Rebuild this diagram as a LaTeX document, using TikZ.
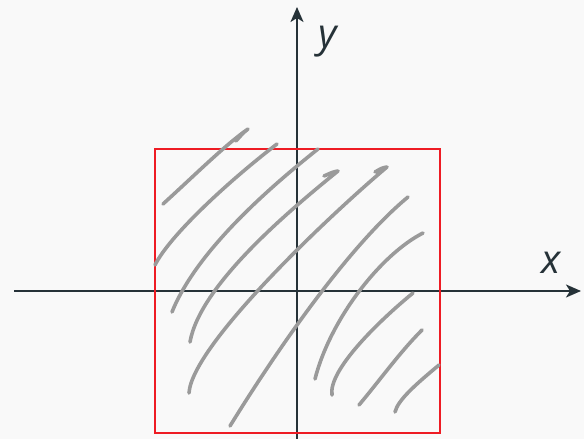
\documentclass[tikz,border=0pt]{standalone}
\usepackage{fontspec}
\setmainfont{Open Sans}
\usetikzlibrary{arrows.meta}
\definecolor{bgc}{HTML}{F9F9F9}
\definecolor{axc}{HTML}{263238}
\definecolor{redc}{RGB}{238,28,36}
\definecolor{hatc}{HTML}{9A9A9A}
\tikzset{
  axis/.style={draw=axc, line width=2pt, -{Stealth[length=15pt,width=13pt,inset=4pt]}},
  hatch/.style={draw=hatc, line width=3.6pt, line cap=round, line join=round},
  lbl/.style={text=axc, font=\fontsize{40}{42}\selectfont\itshape, inner sep=0pt}
}
\begin{document}
\begin{tikzpicture}[x=1pt,y=-1pt]
\fill[bgc] (0,0) rectangle (584,439);
\useasboundingbox (0,0) rectangle (584,439);
% axes
\coordinate (xs) at (14,291);
\coordinate (xe) at (581,291);
\coordinate (ys) at (297,439);
\coordinate (ye) at (297,7);
\draw[axis] (xs) -- (xe);
\draw[axis] (ys) -- (ye);
\node[lbl, anchor=base] (xl) at (551,273) {x};
\node[lbl, anchor=base] (yl) at (328,47) {y};
% red square
\draw[draw=redc, line width=2pt] (155,149) rectangle (440,433);
% hatching strokes
\draw[hatch] (163,204) .. controls (195,175) and (225,145) .. (248,129) .. controls (244,132) .. (236,141);
\draw[hatch] (155,265) .. controls (170,235) and (230,180) .. (277,144);
\draw[hatch] (172,312) .. controls (195,255) and (260,195) .. (318,149);
\draw[hatch] (190,342) .. controls (200,285) and (290,210) .. (338,171) .. controls (333,172) .. (324,176);
\draw[hatch] (189,393) .. controls (192,345) and (330,215) .. (387,167) .. controls (382,168) .. (375,172);
\draw[hatch] (230,426) .. controls (280,345) and (350,245) .. (408,197);
\draw[hatch] (315,379) .. controls (330,320) and (380,255) .. (423,233);
\draw[hatch] (332,395) .. controls (328,370) and (380,320) .. (413,293);
\draw[hatch] (359,405) .. controls (380,380) and (400,352) .. (422,330);
\draw[hatch] (395,412) .. controls (398,400) and (415,385) .. (439,365);
\end{tikzpicture}
\end{document}
